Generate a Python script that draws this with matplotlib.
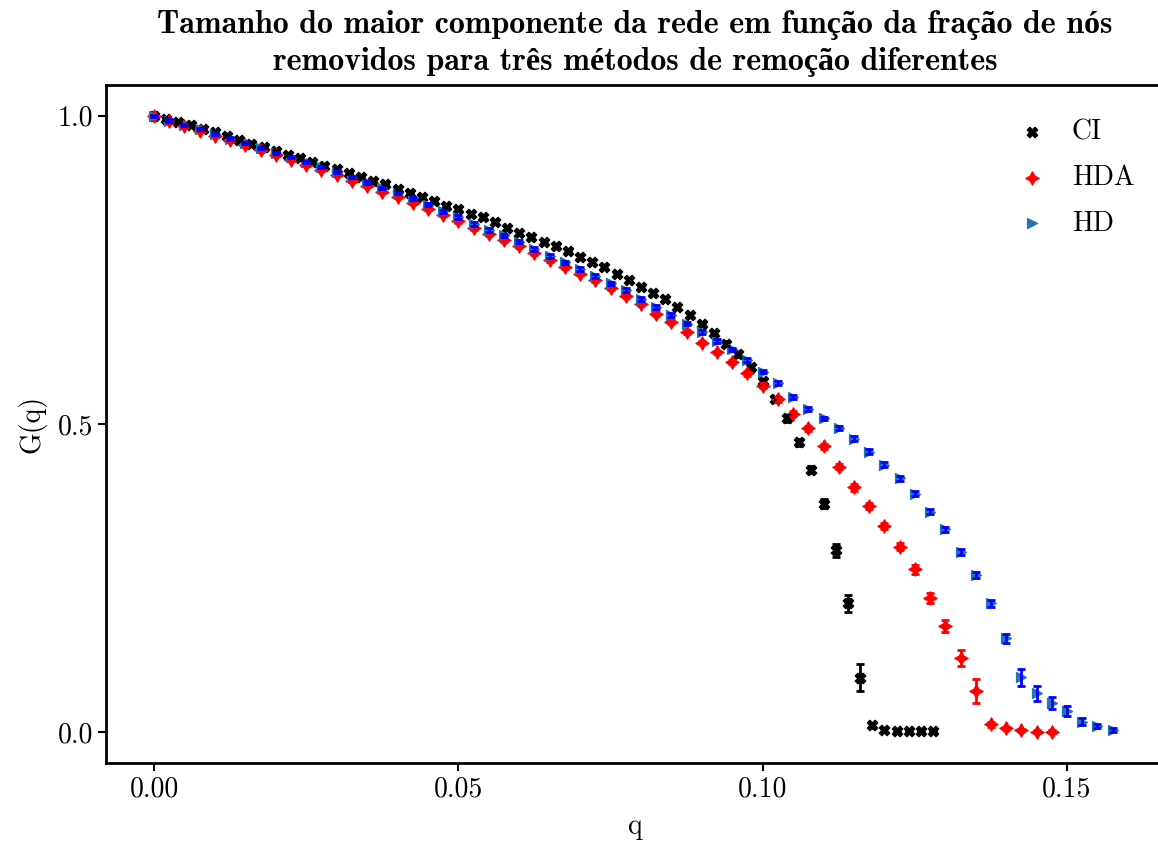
import numpy as np
import matplotlib
matplotlib.use('Agg')
import matplotlib.pyplot as plt

plt.rcParams['font.family'] = ['cmr10', 'DejaVu Serif']
plt.rcParams['mathtext.fontset'] = 'cm'
plt.rcParams['axes.formatter.use_mathtext'] = True

# CI removal (step 0.002)
q_ci = [0.000, 0.002, 0.004, 0.006, 0.008, 0.010, 0.012, 0.014, 0.016, 0.018,
        0.020, 0.022, 0.024, 0.026, 0.028, 0.030, 0.032, 0.034, 0.036, 0.038,
        0.040, 0.042, 0.044, 0.046, 0.048, 0.050, 0.052, 0.054, 0.056, 0.058,
        0.060, 0.062, 0.064, 0.066, 0.068, 0.070, 0.072, 0.074, 0.076, 0.078,
        0.080, 0.082, 0.084, 0.086, 0.088, 0.090, 0.092, 0.094, 0.096, 0.098,
        0.100, 0.102, 0.104, 0.106, 0.108, 0.110, 0.112, 0.114, 0.116, 0.118,
        0.120, 0.122, 0.124, 0.126, 0.128]
g_ci = [1.000, 0.995, 0.990, 0.985, 0.979, 0.973, 0.967, 0.961, 0.955, 0.949,
        0.943, 0.937, 0.931, 0.925, 0.919, 0.913, 0.907, 0.901, 0.895, 0.889,
        0.882, 0.875, 0.869, 0.862, 0.854, 0.848, 0.841, 0.835, 0.827, 0.818,
        0.810, 0.804, 0.796, 0.788, 0.780, 0.771, 0.763, 0.754, 0.744, 0.734,
        0.723, 0.713, 0.703, 0.690, 0.677, 0.663, 0.647, 0.630, 0.613, 0.592,
        0.569, 0.540, 0.509, 0.470, 0.426, 0.371, 0.295, 0.209, 0.088, 0.011,
        0.004, 0.002, 0.002, 0.002, 0.002]
e_ci = [0.002, 0.002, 0.002, 0.002, 0.002, 0.002, 0.002, 0.002, 0.002, 0.002,
        0.002, 0.002, 0.002, 0.002, 0.002, 0.002, 0.002, 0.002, 0.002, 0.002,
        0.002, 0.002, 0.002, 0.002, 0.002, 0.003, 0.003, 0.003, 0.003, 0.003,
        0.003, 0.003, 0.003, 0.003, 0.003, 0.003, 0.003, 0.003, 0.003, 0.003,
        0.003, 0.003, 0.003, 0.003, 0.003, 0.003, 0.003, 0.004, 0.004, 0.004,
        0.004, 0.004, 0.005, 0.005, 0.006, 0.008, 0.010, 0.014, 0.022, 0.004,
        0.003, 0.002, 0.002, 0.002, 0.002]

# HDA removal (step 0.0025)
q_hda = [0.0000, 0.0025, 0.0050, 0.0075, 0.0100, 0.0125, 0.0150, 0.0175, 0.0200, 0.0225,
         0.0250, 0.0275, 0.0300, 0.0325, 0.0350, 0.0375, 0.0400, 0.0425, 0.0450, 0.0475,
         0.0500, 0.0525, 0.0550, 0.0575, 0.0600, 0.0625, 0.0650, 0.0675, 0.0700, 0.0725,
         0.0750, 0.0775, 0.0800, 0.0825, 0.0850, 0.0875, 0.0900, 0.0925, 0.0950, 0.0975,
         0.1000, 0.1025, 0.1050, 0.1075, 0.1100, 0.1125, 0.1150, 0.1175, 0.1200, 0.1225,
         0.1250, 0.1275, 0.1300, 0.1325, 0.1350, 0.1375, 0.1400, 0.1425, 0.1450, 0.1475]
g_hda = [1.000, 0.991, 0.983, 0.976, 0.968, 0.960, 0.952, 0.944, 0.936, 0.928,
         0.920, 0.912, 0.904, 0.895, 0.886, 0.877, 0.868, 0.859, 0.849, 0.839,
         0.829, 0.818, 0.808, 0.799, 0.788, 0.777, 0.766, 0.755, 0.744, 0.733,
         0.721, 0.708, 0.695, 0.679, 0.665, 0.649, 0.632, 0.616, 0.600, 0.582,
         0.562, 0.540, 0.517, 0.493, 0.464, 0.431, 0.397, 0.367, 0.335, 0.301,
         0.264, 0.217, 0.172, 0.121, 0.067, 0.013, 0.006, 0.003, 0.001, 0.001]
e_hda = [0.002, 0.002, 0.002, 0.002, 0.002, 0.002, 0.002, 0.002, 0.002, 0.002,
         0.002, 0.002, 0.002, 0.002, 0.002, 0.002, 0.002, 0.002, 0.002, 0.002,
         0.003, 0.003, 0.003, 0.003, 0.003, 0.003, 0.003, 0.003, 0.003, 0.003,
         0.003, 0.003, 0.003, 0.003, 0.003, 0.003, 0.003, 0.003, 0.003, 0.004,
         0.004, 0.004, 0.004, 0.004, 0.004, 0.004, 0.005, 0.005, 0.005, 0.006,
         0.007, 0.008, 0.010, 0.013, 0.019, 0.004, 0.003, 0.002, 0.002, 0.002]

# HD removal (step 0.0025)
q_hd = [0.0000, 0.0025, 0.0050, 0.0075, 0.0100, 0.0125, 0.0150, 0.0175, 0.0200, 0.0225,
        0.0250, 0.0275, 0.0300, 0.0325, 0.0350, 0.0375, 0.0400, 0.0425, 0.0450, 0.0475,
        0.0500, 0.0525, 0.0550, 0.0575, 0.0600, 0.0625, 0.0650, 0.0675, 0.0700, 0.0725,
        0.0750, 0.0775, 0.0800, 0.0825, 0.0850, 0.0875, 0.0900, 0.0925, 0.0950, 0.0975,
        0.1000, 0.1025, 0.1050, 0.1075, 0.1100, 0.1125, 0.1150, 0.1175, 0.1200, 0.1225,
        0.1250, 0.1275, 0.1300, 0.1325, 0.1350, 0.1375, 0.1400, 0.1425, 0.1450, 0.1475,
        0.1500, 0.1525, 0.1550, 0.1575]
g_hd = [1.000, 0.992, 0.985, 0.979, 0.971, 0.963, 0.956, 0.948, 0.940, 0.933,
        0.925, 0.917, 0.909, 0.901, 0.892, 0.883, 0.875, 0.866, 0.856, 0.845,
        0.836, 0.825, 0.815, 0.806, 0.796, 0.784, 0.773, 0.762, 0.752, 0.740,
        0.728, 0.717, 0.703, 0.690, 0.677, 0.663, 0.649, 0.635, 0.621, 0.604,
        0.585, 0.566, 0.544, 0.524, 0.509, 0.493, 0.476, 0.455, 0.434, 0.412,
        0.387, 0.358, 0.329, 0.292, 0.255, 0.209, 0.152, 0.089, 0.063, 0.047,
        0.034, 0.017, 0.010, 0.003]
e_hd = [0.002, 0.002, 0.002, 0.002, 0.002, 0.002, 0.002, 0.002, 0.002, 0.002,
        0.002, 0.002, 0.002, 0.002, 0.002, 0.002, 0.002, 0.002, 0.002, 0.002,
        0.003, 0.003, 0.003, 0.003, 0.003, 0.003, 0.003, 0.003, 0.003, 0.003,
        0.003, 0.003, 0.003, 0.003, 0.003, 0.003, 0.003, 0.003, 0.003, 0.003,
        0.003, 0.003, 0.003, 0.003, 0.003, 0.003, 0.004, 0.004, 0.004, 0.004,
        0.004, 0.004, 0.004, 0.005, 0.005, 0.006, 0.008, 0.014, 0.012, 0.010,
        0.008, 0.006, 0.004, 0.003]

fig = plt.figure(figsize=(11.58, 8.43), dpi=100)
ax = fig.add_axes([0.0915, 0.0949, 0.9135, 0.8043])

star4 = (4, 1, 0)

# markers first, error bars on top (as in the original)
ax.scatter(q_ci, g_ci, marker='X', color='black', s=55, label='CI', zorder=2)
ax.scatter(q_hda, g_hda, marker=star4, color='red', s=90, label='HDA', zorder=2)
ax.scatter(q_hd, g_hd, marker='>', color='#1f77b4', s=50, label='HD', zorder=2)

ax.errorbar(q_ci, g_ci, yerr=e_ci, fmt='none', ecolor='black', elinewidth=2,
            capsize=3.2, capthick=2, zorder=3)
ax.errorbar(q_hda, g_hda, yerr=e_hda, fmt='none', ecolor='red', elinewidth=2,
            capsize=3.2, capthick=2, zorder=3)
ax.errorbar(q_hd, g_hd, yerr=e_hd, fmt='none', ecolor='blue', elinewidth=2,
            capsize=3.2, capthick=2, zorder=3)

ax.set_xlim(-0.0079, 0.1659)
ax.set_ylim(-0.05, 1.05)
ax.set_xticks([0.0, 0.05, 0.10, 0.15])
ax.set_xticklabels(['0.00', '0.05', '0.10', '0.15'])
ax.set_yticks([0.0, 0.5, 1.0])
ax.set_yticklabels(['0.0', '0.5', '1.0'])
ax.tick_params(labelsize=20, width=1.5, length=6)
for sp in ax.spines.values():
    sp.set_linewidth(2)

ax.set_xlabel('q', fontsize=20, labelpad=8)
ax.set_ylabel('G(q)', fontsize=20, labelpad=8)
ax.set_title('Tamanho do maior componente da rede em função da fração de nós\n'
             'removidos para três métodos de remoção diferentes',
             fontsize=23, fontweight='bold', family=['cmb10', 'Liberation Serif'],
             pad=11, linespacing=1.3)

ax.legend(loc='upper right', bbox_to_anchor=(1.0, 0.993), frameon=False,
          fontsize=20, scatterpoints=1, handletextpad=0.45, labelspacing=0.7,
          borderaxespad=0.65)

fig.savefig('out.png', dpi=100)
